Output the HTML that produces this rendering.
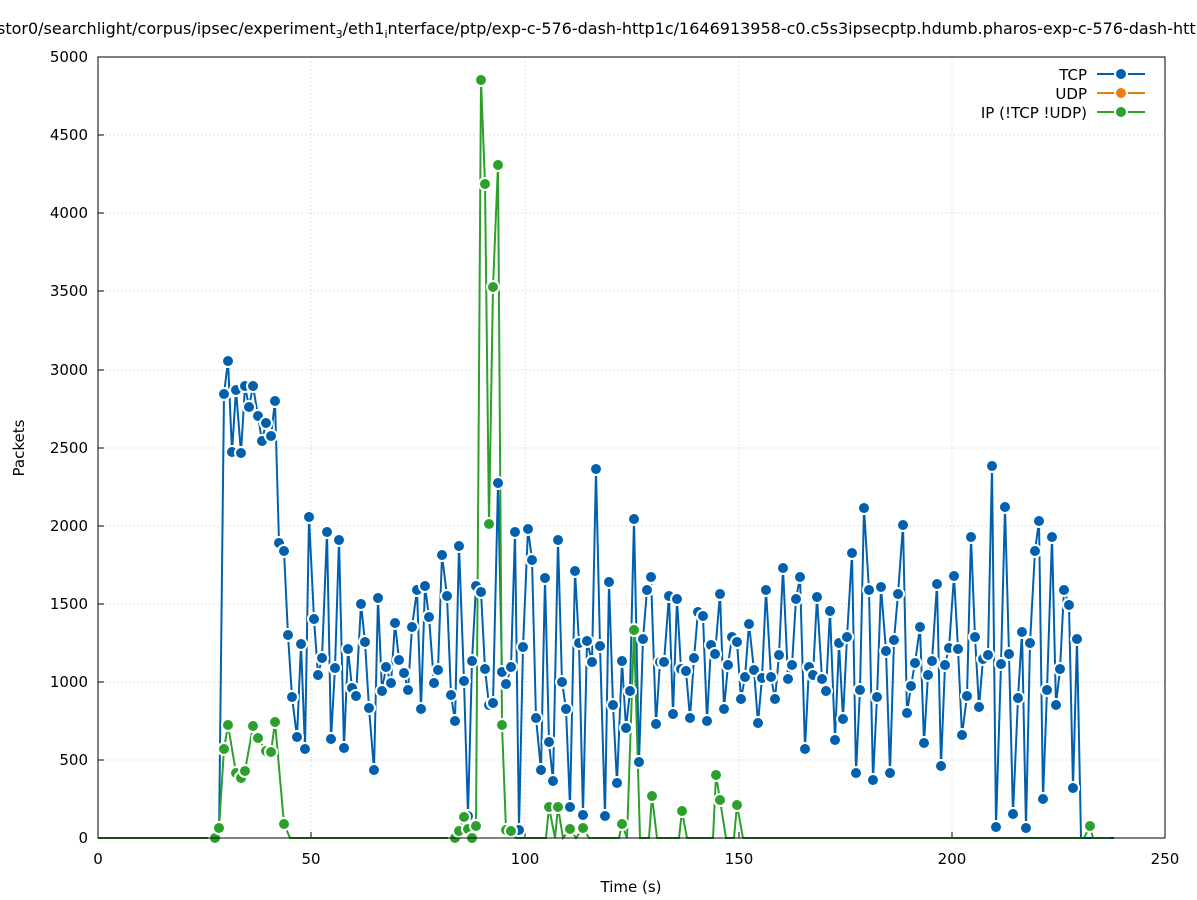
<!DOCTYPE html>
<html><head><meta charset="utf-8"><style>
body{margin:0;background:#fff;}
svg{display:block;font-family:"DejaVu Sans","Liberation Sans",sans-serif;}
</style></head><body>
<svg id="s" width="1197" height="900" viewBox="0 0 1197 900">
<rect width="1197" height="900" fill="#fff"/>
<g stroke="#c8c8c8" stroke-width="1" stroke-dasharray="1,3">
<line x1="311" y1="57" x2="311" y2="838"/><line x1="525" y1="57" x2="525" y2="838"/><line x1="739" y1="57" x2="739" y2="838"/><line x1="952" y1="57" x2="952" y2="838"/>
<line x1="98" y1="760" x2="1165" y2="760"/><line x1="98" y1="682" x2="1165" y2="682"/><line x1="98" y1="604" x2="1165" y2="604"/><line x1="98" y1="526" x2="1165" y2="526"/><line x1="98" y1="448" x2="1165" y2="448"/><line x1="98" y1="370" x2="1165" y2="370"/><line x1="98" y1="291" x2="1165" y2="291"/><line x1="98" y1="213" x2="1165" y2="213"/><line x1="98" y1="135" x2="1165" y2="135"/>
</g>
<g stroke="#000"><line x1="311" y1="838" x2="311" y2="832"/><line x1="525" y1="838" x2="525" y2="832"/><line x1="739" y1="838" x2="739" y2="832"/><line x1="952" y1="838" x2="952" y2="832"/>
<line x1="98" y1="760" x2="104" y2="760"/><line x1="98" y1="682" x2="104" y2="682"/><line x1="98" y1="604" x2="104" y2="604"/><line x1="98" y1="526" x2="104" y2="526"/><line x1="98" y1="448" x2="104" y2="448"/><line x1="98" y1="370" x2="104" y2="370"/><line x1="98" y1="291" x2="104" y2="291"/><line x1="98" y1="213" x2="104" y2="213"/><line x1="98" y1="135" x2="104" y2="135"/></g>
<g font-size="15" text-anchor="end" fill="#000">
<text x="88" y="843">0</text><text x="88" y="765">500</text><text x="88" y="687">1000</text><text x="88" y="609">1500</text><text x="88" y="531">2000</text><text x="88" y="453">2500</text><text x="88" y="375">3000</text><text x="88" y="296">3500</text><text x="88" y="218">4000</text><text x="88" y="140">4500</text><text x="88" y="62">5000</text>
</g>
<g font-size="15" text-anchor="middle" fill="#000">
<text x="98" y="864">0</text><text x="311" y="864">50</text><text x="525" y="864">100</text><text x="739" y="864">150</text><text x="952" y="864">200</text><text x="1165" y="864">250</text>
<text x="631" y="892">Time (s)</text>
</g>
<text x="24" y="448" font-size="15" text-anchor="middle" transform="rotate(-90 24 448)">Packets</text>
<text x="-3" y="34" font-size="16">stor0/searchlight/corpus/ipsec/experiment<tspan font-size="11" dy="4">3</tspan><tspan dy="-4">/eth1</tspan><tspan font-size="11" dy="4">i</tspan><tspan dy="-4">nterface/ptp/exp-c-576-dash-http1c/1646913958-c0.c5s3ipsecptp.hdumb.pharos-exp-c-576-dash-http1c</tspan></text>
<g font-size="15" text-anchor="end">
<text x="1087" y="80">TCP</text><text x="1087" y="99">UDP</text><text x="1087" y="118">IP (!TCP  !UDP)</text>
</g>
<g stroke-width="2">
<line x1="1097" y1="74" x2="1145" y2="74" stroke="#0060ad"/><circle cx="1121" cy="74" r="6" fill="#0060ad" stroke="#fff" stroke-width="2"/>
<line x1="1097" y1="93" x2="1145" y2="93" stroke="#f07b13"/><circle cx="1121" cy="93" r="6" fill="#f07b13" stroke="#fff" stroke-width="2"/>
<line x1="1097" y1="112" x2="1145" y2="112" stroke="#2ca02c"/><circle cx="1121" cy="112" r="6" fill="#2ca02c" stroke="#fff" stroke-width="2"/>
</g>
<g id="plot"></g>
<rect x="98" y="57" width="1067" height="781" fill="none" stroke="#000" stroke-width="1"/>
</svg>
<script>
var tcp=[[219,838],[224,394],[228,361],[232,452],[236,390],[241,453],[245,386],[249,407],[253,386],[258,416],[262,441],[266,423],[271,436],[275,401],[279,543],[284,551],[288,635],[292,697],[297,737],[301,644],[305,749],[309,517],[314,619],[318,675],[322,658],[327,532],[331,739],[335,668],[339,540],[344,748],[348,649],[352,688],[356,696],[361,604],[365,642],[369,708],[374,770],[378,598],[382,691],[386,667],[391,683],[395,623],[399,660],[404,673],[408,690],[412,627],[417,590],[421,709],[425,586],[429,617],[434,683],[438,670],[442,555],[447,596],[451,695],[455,721],[459,546],[464,681],[468,816],[472,661],[476,586],[481,592],[485,669],[489,705],[493,703],[498,483],[502,672],[506,684],[511,667],[515,532],[519,830],[523,647],[528,529],[532,560],[536,718],[541,770],[545,578],[549,742],[553,781],[558,540],[562,682],[566,709],[570,807],[575,571],[579,643],[583,815],[587,641],[592,662],[596,469],[600,646],[605,816],[609,582],[613,705],[617,783],[622,661],[626,728],[630,691],[634,519],[639,762],[643,639],[647,590],[651,577],[656,724],[660,662],[664,662],[669,596],[673,714],[677,599],[681,669],[686,671],[690,718],[694,658],[698,612],[703,616],[707,721],[711,645],[715,654],[720,594],[724,709],[728,665],[732,637],[737,642],[741,699],[745,677],[749,624],[754,670],[758,723],[762,678],[766,590],[771,677],[775,699],[779,655],[783,568],[788,679],[792,665],[796,599],[800,577],[805,749],[809,667],[813,675],[817,597],[822,679],[826,691],[830,611],[835,740],[839,643],[843,719],[847,637],[852,553],[856,773],[860,690],[864,508],[869,590],[873,780],[877,697],[881,587],[886,651],[890,773],[894,640],[898,594],[903,525],[907,713],[911,686],[915,663],[920,627],[924,743],[928,675],[932,661],[937,584],[941,766],[945,665],[949,648],[954,576],[958,649],[962,735],[967,696],[971,537],[975,637],[979,707],[983,659],[988,655],[992,466],[996,827],[1001,664],[1005,507],[1009,654],[1013,814],[1018,698],[1022,632],[1026,828],[1030,643],[1035,551],[1039,521],[1043,799],[1047,690],[1052,537],[1056,705],[1060,669],[1064,590],[1069,605],[1073,788],[1077,639],[1081,838],[1114,838]];
var gs={215:838,219:828,224:749,228:725,232:706,236:773,241:778,245:771,249:752,253:726,258:738,262:726,266:751,271:752,275:722,279:749,284:824,455:838,459:831,464:817,468:829,472:838,476:826,481:80,485:184,489:524,493:287,498:165,502:725,506:830,511:831,549:807,558:807,570:829,583:828,622:824,634:630,652:796,682:811,716:775,720:800,737:805,1090:826,1114:838};
var green=[],gcol=[];for(var x=98;x<=1114;x+=4.27){var xi=Math.round(x);var y=838,hit=false;for(var k in gs){if(Math.abs(k-xi)<=2){y=gs[k];xi=+k;hit=true;}}green.push([xi,y]);if(hit)gcol.push([xi,y]);}
var h='';
function line(p,c){return '<polyline fill="none" stroke="'+c+'" stroke-width="2" points="'+p.map(function(q){return q.join(',')}).join(' ')+'"/>';}
function dots(p,c,r){return p.map(function(q){return '<circle cx="'+q[0]+'" cy="'+q[1]+'" r="'+r+'" fill="'+c+'" stroke="#fff" stroke-width="2"/>'}).join('');}
var tAll=[[98,838]];for(var x=102;x<219;x+=4.27)tAll.push([Math.round(x),838]);tAll=tAll.concat(tcp);
var tNZ=tcp.filter(function(q){return q[1]<838;});
h+=line(tAll,'#0060ad')+line(green,'#2ca02c')+dots(tNZ,'#0060ad',6)+dots(gcol,'#2ca02c',6);
document.getElementById('plot').innerHTML=h;
</script>
</body></html>
